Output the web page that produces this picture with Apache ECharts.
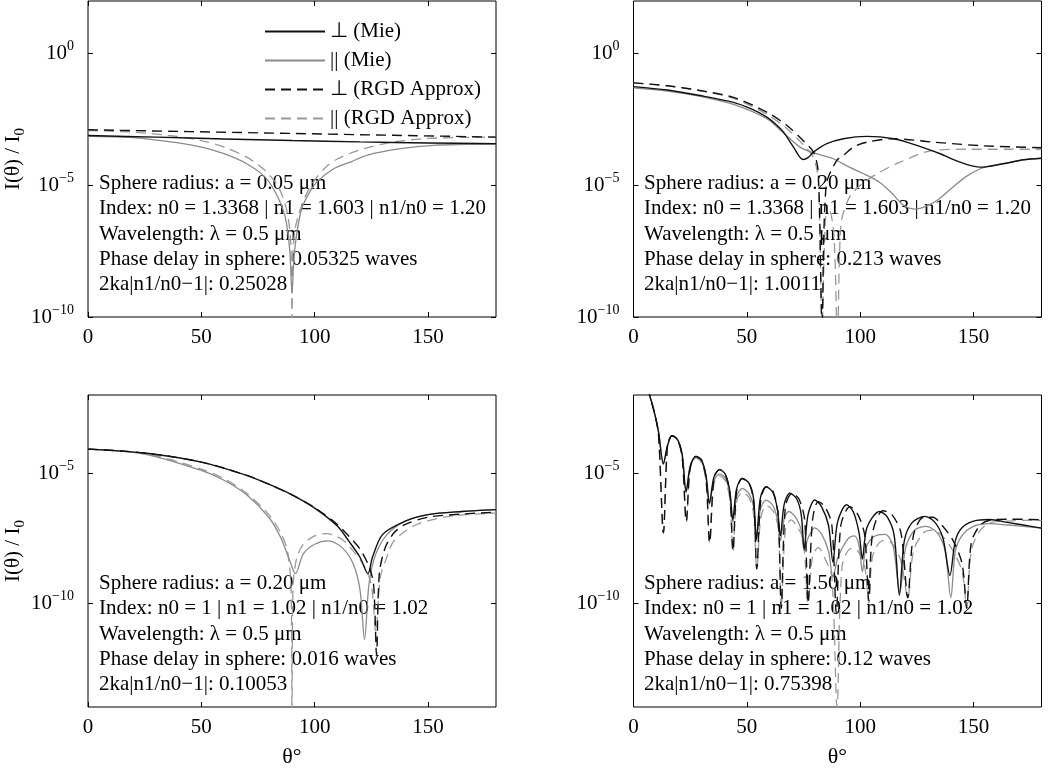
<!DOCTYPE html>
<html>
<head>
<meta charset="utf-8">
<script src="https://cdn.jsdelivr.net/npm/echarts@6/dist/echarts.min.js"></script>
<style>
html,body{margin:0;padding:0;background:#fff;}
#chart{width:1050px;height:769px;}
</style>
</head>
<body>
<div id="chart"></div>
<script>
// ---- DATA (θ in degrees, log10 of I(θ)/I0) ----
const xTicks = [0, 50, 100, 150];
const yTicksTop = [-10, -5, 0];
const yTicksBottom = [-10, -5];
const seriesNames = ['⊥ (Mie)', '|| (Mie)', '⊥ (RGD Approx)', '|| (RGD Approx)'];

// Top-left: a = 0.05 µm
const tlPerpMie = [[0,-3.11],[30,-3.17],[60,-3.24],[90,-3.30],[120,-3.35],[150,-3.39],[180,-3.42]];
const tlParMie = [[0,-3.14],[20,-3.19],[40,-3.39],[50,-3.55],[60,-3.80],[70,-4.18],[78,-4.68],[83,-5.32],[87,-6.2],[89,-7.46],[90,-9.1],[91,-7.6],[93.7,-6.07],[96.6,-5.44],[101,-4.87],[108.4,-4.37],[115.7,-4.12],[123,-3.86],[137.8,-3.61],[152.5,-3.48],[180,-3.42]];
const tlPerpRGD = [[0,-2.89],[45,-2.96],[90,-3.03],[135,-3.10],[180,-3.17]];
const tlParRGD = [[0,-2.92],[20,-2.98],[40,-3.15],[50,-3.30],[60,-3.55],[70,-3.93],[78,-4.43],[84,-5.06],[88,-6.07],[89.6,-7.5],[90,-11],[90.4,-7.5],[92,-6.4],[96,-5.4],[100,-4.8],[105,-4.3],[110,-4.0],[120,-3.65],[135,-3.35],[150,-3.22],[165,-3.18],[180,-3.17]];

// Top-right: a = 0.20 µm
const trPerpMie = [[0,-1.25],[15,-1.38],[29.4,-1.59],[44.1,-1.85],[52,-2.1],[58.8,-2.41],[63,-2.7],[66.2,-2.98],[70.6,-3.55],[74.8,-4.02],[77,-3.95],[79.4,-3.74],[85.3,-3.42],[92.6,-3.23],[103,-3.14],[114.7,-3.23],[125,-3.48],[135.3,-3.80],[144.1,-4.12],[153,-4.31],[156,-4.29],[165,-4.15],[172,-4.03],[180,-3.97]];
const trParMie = [[0,-1.30],[15,-1.42],[29.4,-1.62],[44.1,-1.93],[58.8,-2.47],[66,-3.0],[73.5,-3.55],[80,-3.78],[88.2,-3.99],[95,-4.3],[103,-4.62],[108.8,-4.9],[114,-5.3],[119,-5.75],[124,-5.9],[129,-5.8],[134,-5.57],[141,-5.06],[147,-4.65],[153,-4.37],[156,-4.29],[165,-4.15],[172,-4.03],[180,-3.97]];
const trPerpRGD = [[0,-1.11],[15,-1.22],[29.4,-1.40],[44.1,-1.66],[58.8,-2.22],[67.7,-2.73],[74.8,-3.30],[79.4,-3.74],[81.5,-4.5],[83.2,-10.2],[85,-5.0],[89.7,-4.05],[92.6,-3.86],[97,-3.55],[103,-3.36],[114.7,-3.23],[132.4,-3.36],[154.4,-3.50],[180,-3.57]];
const trParRGD = [[0,-1.11],[15,-1.22],[29.4,-1.41],[44.1,-1.70],[58.8,-2.30],[67.7,-2.85],[74.8,-3.45],[79.4,-3.95],[81.5,-4.8],[83.2,-10.2],[84.8,-6.2],[86.5,-6.0],[88.5,-7.0],[90,-11],[91.5,-6.5],[95,-5.5],[100,-5.0],[107.4,-4.56],[117.6,-4.12],[132.4,-3.67],[147,-3.63],[165,-3.63],[180,-3.63]];

// Bottom-left: a = 0.20 µm, n1/n0 = 1.02
const blPerpMie = [[0,-4.08],[25,-4.23],[50,-4.58],[70,-5.09],[80,-5.44],[90,-5.84],[100,-6.35],[110,-7.04],[115,-7.61],[120,-8.24],[123.5,-8.87],[125.5,-8.24],[130,-7.36],[140,-6.85],[150,-6.60],[165,-6.48],[180,-6.41]];
const blParMie = [[0,-4.08],[25,-4.27],[50,-4.90],[60,-5.28],[70,-5.84],[80,-6.73],[85,-7.48],[89,-8.37],[91.5,-8.87],[95,-8.11],[100,-7.74],[106,-7.61],[112,-7.86],[117,-8.49],[120,-9.5],[122,-11.4],[124,-9.25],[127,-8.11],[132,-7.36],[140,-6.85],[150,-6.60],[165,-6.48],[180,-6.41]];
const blPerpRGD = [[0,-4.08],[25,-4.23],[50,-4.58],[70,-5.09],[80,-5.44],[90,-5.84],[100,-6.33],[110,-6.98],[115,-7.42],[120,-7.93],[124,-8.6],[126,-9.3],[127.3,-12],[128.5,-8.9],[131,-7.9],[135,-7.3],[140,-6.98],[150,-6.70],[165,-6.58],[180,-6.51]];
const blParRGD = [[0,-4.08],[25,-4.25],[50,-4.85],[60,-5.22],[70,-5.78],[80,-6.62],[85,-7.3],[88,-8.0],[89.6,-9.5],[90,-14.5],[90.4,-9.5],[92,-8.3],[95,-7.74],[100,-7.42],[105,-7.33],[112,-7.55],[118,-8.11],[122,-8.6],[125,-9.3],[127,-11.1],[129,-9.0],[132,-8.2],[135,-7.61],[145,-6.98],[160,-6.66],[180,-6.54]];

// Bottom-right: a = 1.50 µm, n1/n0 = 1.02
const brPerpMie = [[0,-0.6],[3,-1.0],[6,-1.7],[9,-2.6],[11,-3.4],[13.2,-4.65],[15,-3.95],[17,-3.57],[19.5,-3.72],[21.5,-4.3],[23.2,-5.72],[25,-4.75],[27.5,-4.36],[30,-4.5],[32,-5.1],[33.5,-6.16],[35.5,-5.15],[38,-4.87],[40.5,-5.05],[42.5,-5.7],[43.8,-6.79],[45.5,-5.6],[48,-5.21],[51,-5.4],[53,-6.0],[54.2,-7.55],[56,-5.95],[58.5,-5.53],[61.5,-5.75],[63.5,-6.4],[64.8,-7.42],[66.5,-6.2],[69,-5.78],[72,-6.0],[74,-6.6],[75.3,-7.93],[77,-6.6],[80,-6.04],[83,-6.3],[86,-7.0],[88,-8.43],[90,-6.9],[94,-6.22],[97,-6.5],[99.5,-7.3],[101,-8.31],[103,-7.1],[108.5,-6.48],[112,-6.7],[115,-7.4],[117.3,-9.7],[119.5,-7.6],[123,-6.9],[128.5,-6.67],[133,-6.9],[136.5,-7.5],[139.6,-8.94],[142,-7.6],[145,-7.1],[150,-6.85],[157,-6.79],[165,-6.9],[172,-7.0],[180,-7.12]];
const brParMie = [[0,-0.6],[3,-1.0],[6,-1.7],[9,-2.6],[11,-3.4],[13.2,-4.65],[15,-3.95],[17,-3.57],[19.5,-3.74],[21.5,-4.32],[23.2,-5.75],[25,-4.8],[27.5,-4.4],[30,-4.55],[32,-5.2],[33.5,-6.2],[35.5,-5.3],[38,-5.03],[40.5,-5.2],[42.5,-5.8],[43.8,-6.9],[45.5,-5.9],[48,-5.59],[51,-5.8],[53,-6.3],[54.2,-7.6],[56,-6.4],[58.5,-6.04],[61.5,-6.25],[63.5,-6.8],[64.8,-7.6],[66.5,-6.75],[68.5,-6.48],[71.5,-6.7],[74,-7.2],[75.3,-8.0],[77,-7.5],[80,-7.11],[83,-7.35],[86,-8.0],[88,-9.0],[90,-8.3],[92,-7.9],[95,-7.5],[97.5,-7.42],[99.5,-7.8],[101,-8.8],[102.5,-7.9],[106,-7.45],[111,-7.36],[114.5,-7.8],[117.5,-9.6],[120,-7.9],[124,-7.2],[129,-7.05],[134,-7.3],[137.5,-8.0],[140,-9.8],[142,-8.0],[145,-7.4],[150,-7.05],[157,-6.95],[165,-7.0],[172,-7.05],[180,-7.12]];
const brPerpRGD = [[0,-0.6],[3,-1.0],[6,-1.7],[9,-2.6],[11,-3.5],[13.2,-7.3],[15,-3.95],[17,-3.57],[19.5,-3.72],[21.5,-4.4],[23.3,-6.86],[25,-4.8],[27.5,-4.36],[30,-4.5],[32,-5.2],[33.6,-7.68],[35.5,-5.2],[38,-4.87],[40.5,-5.05],[42.5,-5.8],[43.9,-7.99],[45.5,-5.7],[48,-5.21],[51,-5.4],[53,-6.1],[54.4,-8.69],[56.2,-6.0],[58.7,-5.53],[61.5,-5.7],[63.8,-6.6],[65.2,-10.2],[67,-6.3],[70,-5.78],[73,-6.0],[75.5,-6.8],[77,-10.0],[79,-6.8],[81.5,-6.1],[84.5,-6.3],[87.5,-7.0],[89.5,-10.4],[91.5,-7.0],[95.5,-6.3],[99,-6.6],[102,-7.4],[103.8,-9.9],[105.5,-7.3],[110,-6.45],[114,-6.6],[118,-7.3],[121,-9.8],[123.5,-7.4],[128,-6.7],[132,-6.7],[136,-7.0],[141,-7.6],[145,-8.5],[147,-10.2],[149,-7.7],[153,-7.0],[158,-6.8],[165,-6.78],[172,-6.78],[180,-6.8]];
const brParRGD = [[0,-0.6],[3,-1.0],[6,-1.7],[9,-2.6],[11,-3.5],[13.2,-7.3],[15,-3.95],[17,-3.57],[19.5,-3.75],[21.5,-4.45],[23.3,-6.9],[25,-4.85],[27.5,-4.42],[30,-4.6],[32,-5.3],[33.6,-7.7],[35.5,-5.4],[38,-5.1],[40.5,-5.3],[42.5,-6.0],[43.9,-8.0],[45.5,-6.1],[48,-5.75],[51,-5.95],[53,-6.6],[54.4,-8.7],[56.2,-6.7],[58.7,-6.25],[61.5,-6.45],[63.8,-7.1],[65.2,-10.2],[67,-7.2],[69.5,-6.8],[72.5,-7.1],[75,-7.6],[77,-10.0],[79,-8.2],[81.5,-7.87],[84.5,-8.3],[87.5,-9.0],[89.8,-14],[92,-8.6],[96,-7.9],[99,-8.0],[102,-8.6],[103.8,-10.0],[105.5,-8.2],[110,-7.6],[114,-7.7],[118,-8.4],[121,-9.8],[123.5,-8.0],[128,-7.3],[132,-7.2],[136,-7.4],[141,-8.0],[145,-8.8],[147,-10.2],[149,-8.0],[153,-7.2],[158,-6.9],[165,-6.85],[172,-6.82],[180,-6.82]];

const tlText = ['Sphere radius: a = 0.05 μm','Index: n0 = 1.3368 | n1 = 1.603 | n1/n0 = 1.20','Wavelength: λ = 0.5 μm','Phase delay in sphere: 0.05325 waves','2ka|n1/n0−1|: 0.25028'];
const trText = ['Sphere radius: a = 0.20 μm','Index: n0 = 1.3368 | n1 = 1.603 | n1/n0 = 1.20','Wavelength: λ = 0.5 μm','Phase delay in sphere: 0.213 waves','2ka|n1/n0−1|: 1.0011'];
const blText = ['Sphere radius: a = 0.20 μm','Index: n0 = 1 | n1 = 1.02 | n1/n0 = 1.02','Wavelength: λ = 0.5 μm','Phase delay in sphere: 0.016 waves','2ka|n1/n0−1|: 0.10053'];
const brText = ['Sphere radius: a = 1.50 μm','Index: n0 = 1 | n1 = 1.02 | n1/n0 = 1.02','Wavelength: λ = 0.5 μm','Phase delay in sphere: 0.12 waves','2ka|n1/n0−1|: 0.75398'];

// ---- LAYOUT / STYLE ----
const FONT = 'Liberation Serif';
const BLACK = '#111111';
const GRAY = '#8a8a8a';
const GRAY_D = '#999999';

const panels = [
  {grid:{left:88, top:1, width:408, height:316}, ymin:-10, ymax:2, yTicks:yTicksTop, data:[tlPerpMie, tlParMie, tlPerpRGD, tlParRGD], text:tlText, tx:99, ty:170.6, yName:true, xName:false},
  {grid:{left:633.5, top:1, width:408, height:316}, ymin:-10, ymax:2, yTicks:yTicksTop, data:[trPerpMie, trParMie, trPerpRGD, trParRGD], text:trText, tx:644, ty:170.6, yName:false, xName:false},
  {grid:{left:88, top:395, width:408, height:317}, ymin:-14, ymax:-2, yTicks:yTicksBottom, data:[blPerpMie, blParMie, blPerpRGD, blParRGD], text:blText, tx:99, ty:570.6, yName:true, xName:true},
  {grid:{left:633.5, top:395, width:408, height:317}, ymin:-14, ymax:-2, yTicks:yTicksBottom, data:[brPerpMie, brParMie, brPerpRGD, brParRGD], text:brText, tx:644, ty:570.6, yName:false, xName:true}
];

const styles = [
  {color:BLACK, width:1.4, type:'solid', z:5},
  {color:GRAY, width:1.3, type:'solid', z:3},
  {color:BLACK, width:1.4, type:[10,6], z:4},
  {color:GRAY_D, width:1.3, type:[10,6], z:2}
];

const grids = [], xAxes = [], yAxes = [], series = [], graphics = [];
const tickStyle = {show:true, inside:true, length:5, lineStyle:{color:'#000', width:1}};
const noLine = {show:false, onZero:false};

panels.forEach((p, i) => {
  grids.push(Object.assign({show:true, borderColor:'#000', borderWidth:1, backgroundColor:'transparent', containLabel:false}, p.grid));
  xAxes.push({
    type:'value', gridIndex:i, min:0, max:180, position:'bottom',
    axisLine:noLine, splitLine:{show:false},
    axisTick:Object.assign({customValues:xTicks}, tickStyle),
    axisLabel:{customValues:xTicks, fontSize:21, fontFamily:FONT, color:'#000', margin:10},
    name:p.xName ? 'θ°' : '', nameLocation:'middle', nameGap:39,
    nameTextStyle:{fontSize:22, fontFamily:FONT, color:'#000'}
  });
  xAxes.push({
    type:'value', gridIndex:i, min:0, max:180, position:'top',
    axisLine:noLine, splitLine:{show:false},
    axisTick:Object.assign({customValues:xTicks}, tickStyle),
    axisLabel:{show:false, customValues:xTicks}
  });
  yAxes.push({
    type:'value', gridIndex:i, min:p.ymin, max:p.ymax, position:'left',
    axisLine:noLine, splitLine:{show:false},
    axisTick:Object.assign({customValues:p.yTicks}, tickStyle),
    axisLabel:{
      customValues:p.yTicks, margin:14, color:'#000',
      formatter:v => '{b|10}{s|' + (v === 0 ? '0' : '−' + (-v)) + '}',
      rich:{b:{fontSize:21, fontFamily:FONT, color:'#000'}, s:{fontSize:14, fontFamily:FONT, color:'#000', padding:[0,0,14,0]}}
    },
    name:p.yName ? '{t|I(θ) / I}{u|0}' : '', nameLocation:'middle', nameRotate:90, nameGap:60,
    nameTextStyle:{rich:{t:{fontSize:21, fontFamily:FONT, color:'#000'}, u:{fontSize:15, fontFamily:FONT, color:'#000', padding:[12,0,0,0]}}}
  });
  yAxes.push({
    type:'value', gridIndex:i, min:p.ymin, max:p.ymax, position:'right',
    axisLine:noLine, splitLine:{show:false},
    axisTick:Object.assign({customValues:p.yTicks}, tickStyle),
    axisLabel:{show:false, customValues:p.yTicks}
  });
  p.data.forEach((d, k) => {
    const s = styles[k];
    series.push({
      type:'line', name:seriesNames[k], xAxisIndex:2*i, yAxisIndex:2*i,
      data:d, symbol:'none', showSymbol:false, smooth:0.3, clip:true, z:s.z,
      lineStyle:{color:s.color, width:s.width, type:s.type},
      itemStyle:{color:s.color}, emphasis:{disabled:true}
    });
  });
  graphics.push({
    type:'text', left:p.tx, top:p.ty, silent:true, z:1,
    style:{text:p.text.join('\n'), font:'21px "' + FONT + '"', lineHeight:25.4, fill:'#000'}
  });
});

const chart = echarts.init(document.getElementById('chart'), null, {renderer:'canvas'});
chart.setOption({
  animation:false,
  backgroundColor:'#fff',
  grid:grids, xAxis:xAxes, yAxis:yAxes, series:series, graphic:graphics,
  legend:{
    data:seriesNames, orient:'vertical', left:264, top:21, padding:0, itemWidth:60, itemHeight:14, itemGap:8,
    itemStyle:{opacity:0, borderWidth:0},
    textStyle:{fontSize:21, fontFamily:FONT, color:'#000'}, selectedMode:false
  }
});
</script>
</body>
</html>
